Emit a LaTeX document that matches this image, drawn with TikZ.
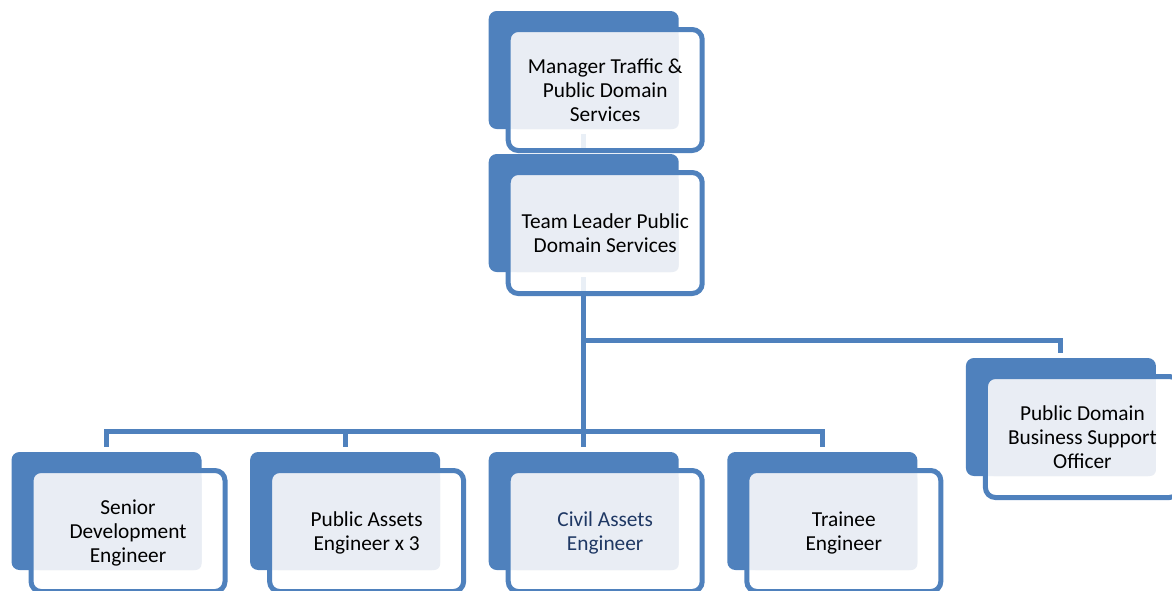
\documentclass[tikz,border=0pt]{standalone}
\usepackage{fontspec}
\setmainfont{Carlito}
\usetikzlibrary{positioning}
\definecolor{Accent}{HTML}{4F81BD}
\definecolor{Tint}{HTML}{E9EDF4}
\definecolor{Navy}{HTML}{1F3864}
\pgfdeclarelayer{wires}
\pgfdeclarelayer{back}
\pgfsetlayers{wires,back,main}
\tikzset{
  post/.style={
    rounded corners=7.5pt, draw=Accent, line width=3.75pt,
    minimum width=145.5pt, minimum height=90.75pt, align=center,
    text depth=0pt, font=\fontsize{16pt}{18pt}\selectfont
  },
  backing/.style={rounded corners=6pt, fill=Accent},
  wash/.style={rounded corners=5.5pt, fill=white, fill opacity=0.88},
  face/.style={rounded corners=4.5pt, fill=Tint},
  link/.style={line width=3.75pt, draw=Accent, shorten <=3.75pt, shorten >=3.75pt}
}

\begin{document}
\begin{tikzpicture}
  \useasboundingbox (0,0) rectangle (879pt,-442.5pt);
  \node[post] (mgr) at (453.9pt,-67.5pt) {Manager Traffic \&\\Public Domain\\Services};
  \node[post,below=12.75pt of mgr] (tl) {Team Leader Public\\Domain Services};
  \node[post,below=129pt of tl,text=Navy] (cae) {Civil Assets\\Engineer};
  \node[post,left=29.7pt of cae] (pae) {Public Assets\\Engineer x 3};
  \node[post,left=29.7pt of pae] (sde) {Senior\\Development\\Engineer};
  \node[post,right=29.7pt of cae] (te) {Trainee\\Engineer};
  \node[post,below right=58.5pt and 208.65pt of tl] (pdb) {Public Domain\\Business Support\\Officer};

  % solid tab, washed frame and face behind every post
  \foreach \n in {mgr,tl,sde,pae,cae,te,pdb}{
    \coordinate (\n-top) at ([shift={(58.5pt,12pt)}]\n.north west);
    \coordinate (\n-bot) at ([shift={(-90.75pt,18pt)}]\n.south east);
    \begin{pgfonlayer}{back}
      \fill[backing] ([shift={(-12.75pt,12pt)}]\n.north west) rectangle ([shift={(-19.5pt,18pt)}]\n.south east);
      \fill[wash] ([shift={(1.875pt,-1.875pt)}]\n.north west) rectangle ([shift={(-1.875pt,1.875pt)}]\n.south east);
      \fill[face] ([shift={(3.75pt,-3.75pt)}]\n.north west) rectangle ([shift={(-19.5pt,18pt)}]\n.south east);
    \end{pgfonlayer}
  }

  \begin{pgfonlayer}{wires}
    \draw[link] (mgr-bot) -- (tl-top);
    \draw[link] (tl-bot) -- ++(0,-51pt) -| (pdb-top);
    \foreach \n in {sde,pae,cae,te}
      \draw[link] (tl-bot) -- ++(0,-119.25pt) -| (\n-top);
  \end{pgfonlayer}
\end{tikzpicture}
\end{document}
